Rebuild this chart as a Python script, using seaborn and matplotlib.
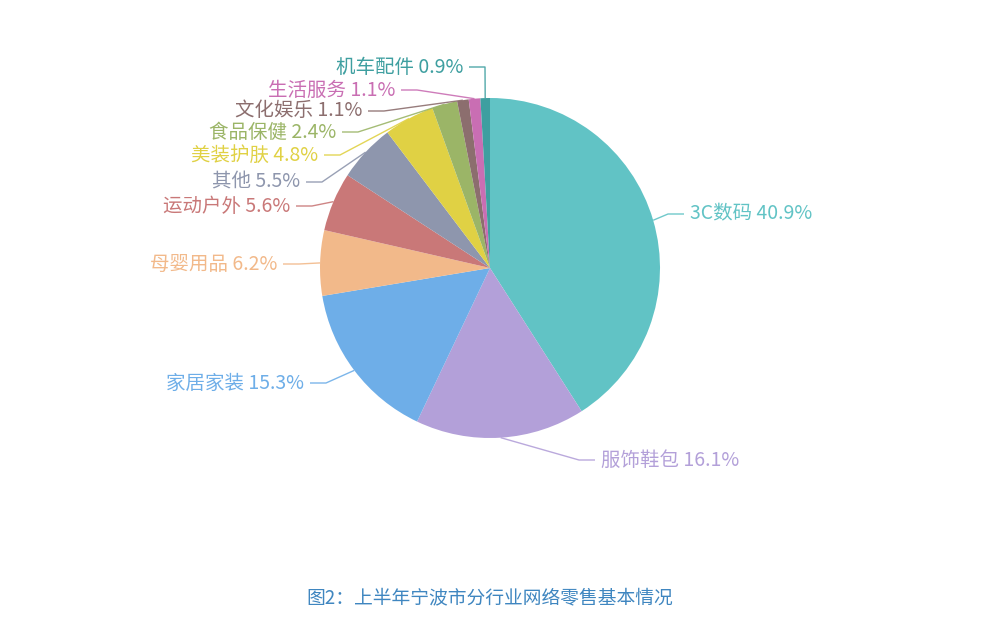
import numpy as np
import matplotlib
matplotlib.use("Agg")
import matplotlib.pyplot as plt
import seaborn as sns

categories = ["3C数码", "服饰鞋包", "家居家装", "母婴用品", "运动户外", "其他",
              "美装护肤", "食品保健", "文化娱乐", "生活服务", "机车配件"]
values = [40.9, 16.1, 15.3, 6.2, 5.6, 5.5, 4.8, 2.4, 1.1, 1.1, 0.9]
colors = ["#61c3c5", "#b3a0d9", "#6eaee8", "#f2b98a", "#c97878", "#8e96ad",
          "#e0d144", "#9bb567", "#8c6e6e", "#c96eb3", "#3e9fa0"]
title = "图2：上半年宁波市分行业网络零售基本情况"

# label layout (pixel coords from top-left): anchor x, y, side
label_pos = [(690, 214, "left"), (601, 460, "left"), (304, 383, "right"),
             (277, 264, "right"), (290, 206, "right"), (300, 182, "right"),
             (318, 155, "right"), (336, 132, "right"), (362, 111, "right"),
             (395, 90, "right"), (463, 67, "right")]

sns.set_theme(style="white")
plt.rcParams['font.family'] = ['Noto Sans CJK SC', 'DejaVu Sans']

W, H = 1000, 618
fig = plt.figure(figsize=(10, 6.18), dpi=100)
ax = fig.add_axes([0, 0, 1, 1])

cx, cy, R = 490, H - 268, 170
palette = sns.color_palette(colors)
wedges, _ = ax.pie(values, colors=palette, startangle=90, counterclock=False,
                   center=(cx, cy), radius=R, frame=True,
                   wedgeprops=dict(linewidth=0))
ax.set_xlim(0, W)
ax.set_ylim(0, H)
ax.set_aspect('equal')
ax.axis('off')

GAP, SEG = 6, 16
for w, cat, val, col, (lx, ly, side) in zip(wedges, categories, values, colors, label_pos):
    ang = np.deg2rad((w.theta1 + w.theta2) / 2)
    p0 = (cx + R * np.cos(ang), cy + R * np.sin(ang))
    yl = H - ly
    if side == "left":
        t = lx - GAP
        e = t - SEG
    else:
        t = lx + GAP
        e = t + SEG
    ax.plot([p0[0], e, t], [p0[1], yl, yl], color=col, lw=1.0,
            solid_capstyle='butt', alpha=0.9)
    ax.text(lx, yl, f"{cat} {val}%", color=col, fontsize=14, ha=side,
            va='center')

ax.text(490, H - 598, title, color="#3f86c0", fontsize=13.5, ha='center',
        va='center')

fig.savefig("out.png", dpi=100, facecolor="white")
